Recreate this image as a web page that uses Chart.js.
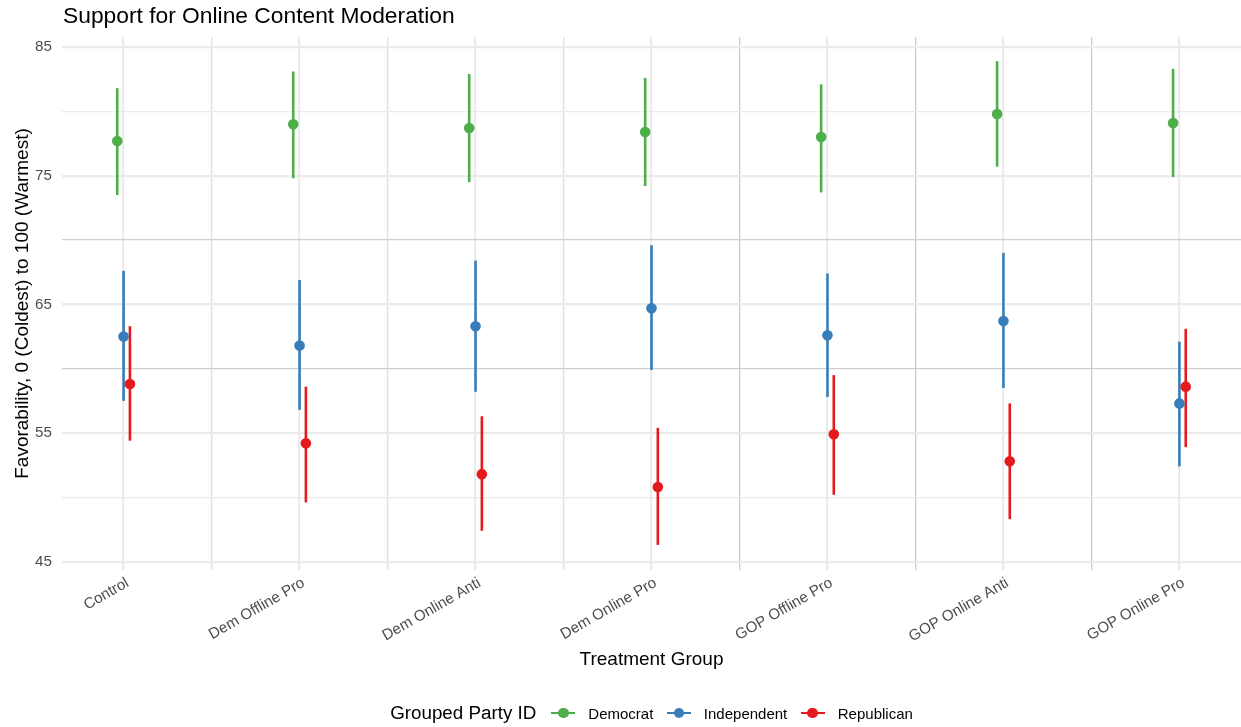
<!DOCTYPE html>
<html>
<head>
<meta charset="utf-8">
<script src="https://cdn.jsdelivr.net/npm/chart.js@4.4.1/dist/chart.umd.min.js"></script>
<style>
  body { margin: 0; background: #fff; font-family: "Liberation Sans", Arial, sans-serif; }
  #wrap { position: relative; width: 1241px; height: 727px; }
  #chart { position: absolute; left: 0; top: 0; }
  #title { position: absolute; left: 63px; top: 4px; font-size: 22.8px; line-height: 1; color: #000; }
  #legend { position: absolute; left: 62px; width: 1179px; top: 700px; height: 26px;
            display: flex; justify-content: center; align-items: center; color: #000; }
  #legend .ttl { font-size: 18.8px; margin-right: 15px; }
  #legend .key { position: relative; display: inline-block; width: 24px; height: 12px; margin-right: 13px; }
  #legend .key .ln { position: absolute; left: 0; right: 0; top: 4.7px; height: 2.6px; }
  #legend .key .dt { position: absolute; left: 6.7px; top: 0.7px; width: 10.6px; height: 10.6px; border-radius: 50%; }
  #legend .lbl { font-size: 15px; margin-right: 13.5px; }
  #legend .lbl:last-child { margin-right: 0; }
</style>
</head>
<body>
<div id="wrap">
  <canvas id="chart" width="1241" height="727"></canvas>
  <div id="title">Support for Online Content Moderation</div>
  <div id="legend"></div>
</div>
<script>
// data
const groups = ["Control", "Dem Offline Pro", "Dem Online Anti", "Dem Online Pro",
                "GOP Offline Pro", "GOP Online Anti", "GOP Online Pro"];

const demMean = [77.7, 79.0, 78.7, 78.4, 78.0, 79.8, 79.1];
const demLow  = [73.5, 74.8, 74.5, 74.2, 73.7, 75.7, 74.9];
const demHigh = [81.8, 83.1, 82.9, 82.6, 82.1, 83.9, 83.3];

const indMean = [62.5, 61.8, 63.3, 64.7, 62.6, 63.7, 57.3];
const indLow  = [57.5, 56.8, 58.2, 59.9, 57.8, 58.5, 52.4];
const indHigh = [67.6, 66.9, 68.4, 69.6, 67.4, 69.0, 62.1];

const repMean = [58.8, 54.2, 51.8, 50.8, 54.9, 52.8, 58.6];
const repLow  = [54.4, 49.6, 47.4, 46.3, 50.2, 48.3, 53.9];
const repHigh = [63.3, 58.6, 56.3, 55.4, 59.5, 57.3, 63.1];

const yTicks = [45, 55, 65, 75, 85];
const yMinor = [50, 60, 70, 80];

const series = [
  { name: "Democrat",    mean: demMean, low: demLow, high: demHigh, color: "#4DAF4A", shift: -0.036 },
  { name: "Independent", mean: indMean, low: indLow, high: indHigh, color: "#377EB8", shift: 0 },
  { name: "Republican",  mean: repMean, low: repLow, high: repHigh, color: "#E41A1C", shift: 0.036 }
];

// vertical ranges, drawn under the points
const errorBars = {
  id: "errorBars",
  beforeDatasetsDraw(chart) {
    const { ctx, scales: { x, y } } = chart;
    ctx.save();
    ctx.lineWidth = 2.6;
    ctx.lineCap = "butt";
    series.forEach(s => {
      ctx.strokeStyle = s.color;
      s.low.forEach((lo, i) => {
        const px = x.getPixelForValue(i + s.shift);
        ctx.beginPath();
        ctx.moveTo(px, y.getPixelForValue(lo));
        ctx.lineTo(px, y.getPixelForValue(s.high[i]));
        ctx.stroke();
      });
    });
    ctx.restore();
  }
};

const xGridColor = v => {
  if (Number.isInteger(v)) return "#EBEBEB";
  return v > 3 ? "#CDCDCD" : "#DFDFDF";
};
const yGridColor = v => {
  if (yTicks.includes(v)) return "#EBEBEB";
  return (v === 60 || v === 70) ? "#CFCFCF" : "#EBEBEB";
};

const ctx = document.getElementById("chart").getContext("2d");

new Chart(ctx, {
  type: "scatter",
  data: {
    datasets: series.map(s => ({
      label: s.name,
      data: s.mean.map((m, i) => ({ x: i + s.shift, y: m })),
      backgroundColor: s.color,
      borderColor: s.color,
      borderWidth: 0,
      pointRadius: 5.3,
      pointHoverRadius: 5.3
    }))
  },
  options: {
    responsive: false,
    animation: false,
    layout: { autoPadding: false, padding: { top: 37, bottom: 55, left: 0, right: 0 } },
    plugins: {
      legend: { display: false },
      title: { display: false },
      tooltip: { enabled: false }
    },
    scales: {
      x: {
        type: "linear",
        min: -0.35,
        max: 6.35,
        afterBuildTicks: scale => {
          const t = [];
          for (let v = 0; v <= groups.length - 1; v += 0.5) t.push({ value: v });
          scale.ticks = t;
        },
        afterFit: scale => {
          scale.height = 102;
          scale.paddingLeft = 0;
          scale.paddingRight = 0;
        },
        border: { display: false },
        grid: {
          drawTicks: false,
          color: c => xGridColor(c.tick.value),
          lineWidth: c => Number.isInteger(c.tick.value) ? 2.2 : 1.3
        },
        ticks: {
          autoSkip: false,
          minRotation: 30,
          maxRotation: 30,
          padding: 4,
          labelOffset: 4,
          color: "#4D4D4D",
          font: { family: "Liberation Sans", size: 15.2 },
          callback: v => Number.isInteger(v) ? groups[v] : ""
        },
        title: {
          display: true,
          text: "Treatment Group",
          color: "#000",
          font: { family: "Liberation Sans", size: 19 },
          padding: { top: 0, bottom: 1 }
        }
      },
      y: {
        min: 44.35,
        max: 85.78,
        afterBuildTicks: scale => {
          scale.ticks = yTicks.concat(yMinor).sort((a, b) => a - b).map(v => ({ value: v }));
        },
        afterFit: scale => { scale.width = 62; },
        border: { display: false },
        grid: {
          drawTicks: false,
          color: c => yGridColor(c.tick.value),
          lineWidth: c => yTicks.includes(c.tick.value) ? 2.2 : 1.3
        },
        ticks: {
          padding: 10,
          color: "#4D4D4D",
          font: { family: "Liberation Sans", size: 15.2 },
          callback: v => yTicks.includes(v) ? String(v) : ""
        },
        title: {
          display: true,
          text: "Favorability, 0 (Coldest) to 100 (Warmest)",
          color: "#000",
          font: { family: "Liberation Sans", size: 19 },
          padding: { top: 11, bottom: 0 }
        }
      }
    }
  },
  plugins: [errorBars]
});

// legend, laid out like the ggplot one
const legend = document.getElementById("legend");
legend.innerHTML = '<span class="ttl">Grouped Party ID</span>' + series.map(s =>
  '<span class="key"><span class="ln" style="background:' + s.color + '"></span>' +
  '<span class="dt" style="background:' + s.color + '"></span></span>' +
  '<span class="lbl">' + s.name + '</span>').join("");
</script>
</body>
</html>
